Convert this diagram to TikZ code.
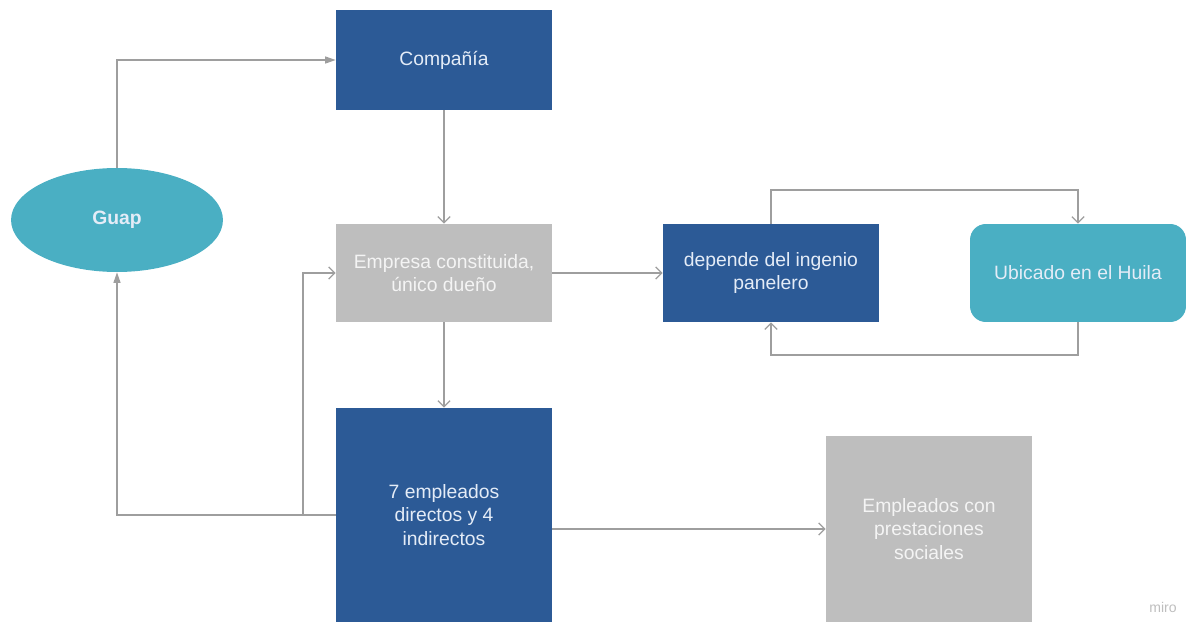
\documentclass[tikz,border=0pt]{standalone}
\usepackage{fontspec}
\setmainfont{Liberation Sans}
\usetikzlibrary{arrows.meta,shapes.geometric}
\definecolor{dblue}{HTML}{2C5A96}
\definecolor{teal1}{HTML}{4AAFC3}
\definecolor{gray1}{HTML}{BEBEBE}
\definecolor{lnc}{HTML}{9E9E9E}
\definecolor{txtb}{HTML}{E4ECF7}
\definecolor{txtg}{HTML}{F4F4F4}
\tikzset{
  box/.style={rectangle, inner sep=4pt, align=center, font=\fontsize{11}{13.2}\selectfont},
  bluebox/.style={box, fill=dblue, text=txtb},
  graybox/.style={box, fill=gray1, text=txtg},
  tealbox/.style={box, fill=teal1, text=txtb, rounded corners=9pt},
  conn/.style={draw=lnc, line width=0.7pt},
  openarr/.style={conn, -{Straight Barb[length=3.5pt,width=7pt]}},
  fillarr/.style={conn, -{Triangle[length=6pt,width=4pt]}, },
}
\begin{document}
\begin{tikzpicture}[x=0.02cm, y=-0.02cm]
\useasboundingbox (0,0) rectangle (1191,622);
\node[bluebox, minimum width=4.32cm, minimum height=2cm] (comp) at (444,60) {Compañía};
\node[ellipse, fill=teal1, text=txtb, minimum width=4.24cm, minimum height=2.08cm, font=\bfseries\fontsize{11}{13.2}\selectfont] (guap) at (117,220) {Guap};
\node[graybox, minimum width=4.32cm, minimum height=1.96cm] (emp) at (444,273) {Empresa constituida,\\único dueño};
\node[bluebox, minimum width=4.32cm, minimum height=1.96cm] (dep) at (771,273) {depende del ingenio\\panelero};
\node[tealbox, minimum width=4.32cm, minimum height=1.96cm] (ubi) at (1078,273) {Ubicado en el Huila};
\node[bluebox, minimum width=4.32cm, minimum height=4.28cm] (siete) at (444,515) {7 empleados\\directos y 4\\indirectos};
\node[graybox, minimum width=4.12cm, minimum height=3.72cm] (prest) at (929,529) {Empleados con\\prestaciones\\sociales};
\node[text=gray1, font=\fontsize{8}{9}\selectfont] (miro) at (1163,607) {miro};
\coordinate (lt) at (0,190);
\coordinate (lb) at (0,355);
\coordinate (fb) at (303,515);
\draw[fillarr] (guap.north) |- (comp.west);
\draw[openarr] (comp) -- (emp);
\draw[openarr] (emp) -- (dep);
\draw[openarr] (dep.north) -- (dep.north |- lt) -| (ubi.north);
\draw[openarr] (ubi.south) -- (ubi.south |- lb) -| (dep.south);
\draw[openarr] (emp) -- (siete);
\draw[fillarr] (siete.west) -| (guap.south);
\draw[openarr] (fb) |- (emp.west);
\draw[openarr] (siete.east |- prest.west) -- (prest.west);
\end{tikzpicture}
\end{document}
